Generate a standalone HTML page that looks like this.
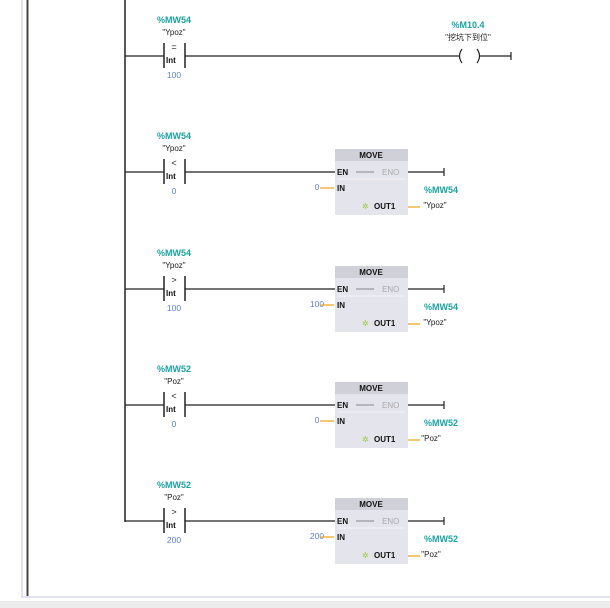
<!DOCTYPE html>
<html><head><meta charset="utf-8"><style>
html,body{margin:0;padding:0;background:#fff;width:610px;height:608px;overflow:hidden}
svg text{font-family:"Liberation Sans","Noto Sans CJK SC",sans-serif}
.t{fill:#1aa3a3;font-size:9px;font-weight:bold;text-anchor:middle}
.n{fill:#222;font-size:8px;text-anchor:middle}
.v{fill:#5a7fe0;font-size:8.5px;text-anchor:middle}
.op{fill:#222;font-size:9px;text-anchor:middle}
.b{fill:#111;font-size:9px;font-weight:bold}
.g{fill:#aaa;font-size:9px}
</style></head><body>
<svg width="610" height="608" viewBox="0 0 610 608" xmlns="http://www.w3.org/2000/svg">
<rect x="0" y="601" width="610" height="7" fill="#ececec"/>
<line x1="22" y1="0" x2="22" y2="597" stroke="#d8d8ee" stroke-width="1.5"/>
<line x1="21" y1="597" x2="610" y2="597" stroke="#d8d8ee" stroke-width="1.5"/>
<line x1="27.5" y1="0" x2="27.5" y2="596" stroke="#444" stroke-width="2"/>
<line x1="125" y1="0" x2="125" y2="522" stroke="#222" stroke-width="1.5"/>

<g>
<line x1="125" y1="56" x2="164" y2="56" stroke="#222" stroke-width="1.3"/>
<line x1="164" y1="43" x2="164" y2="68" stroke="#222" stroke-width="1.5"/>
<line x1="185" y1="43" x2="185" y2="68" stroke="#222" stroke-width="1.5"/>
<line x1="185" y1="56" x2="459" y2="56" stroke="#222" stroke-width="1.3"/>
<text class="t" x="174" y="23">%MW54</text>
<text class="n" x="174" y="35">"Ypoz"</text>
<text class="op" x="174" y="50">=</text>
<text class="b" x="166" y="63" style="font-size:8px">Int</text>
<text class="v" x="174" y="78">100</text>
<path d="M462 49 Q457 56 462 63" fill="none" stroke="#222" stroke-width="1.2"/>
<path d="M477 49 Q482 56 477 63" fill="none" stroke="#222" stroke-width="1.2"/>
<line x1="479" y1="56" x2="511" y2="56" stroke="#222" stroke-width="1.3"/>
<line x1="511" y1="52" x2="511" y2="60" stroke="#222" stroke-width="1.2"/>
<text class="t" x="468" y="28">%M10.4</text>
<text class="n" x="468" y="40">"挖坑下到位"</text>
</g>

<g transform="translate(0,172)">
<line x1="125" y1="0" x2="164" y2="0" stroke="#222" stroke-width="1.3"/>
<line x1="164" y1="-13" x2="164" y2="12" stroke="#222" stroke-width="1.5"/>
<line x1="185" y1="-13" x2="185" y2="12" stroke="#222" stroke-width="1.5"/>
<line x1="185" y1="0" x2="336" y2="0" stroke="#222" stroke-width="1.3"/>
<text class="t" x="174" y="-33">%MW54</text><text class="n" x="174" y="-21">"Ypoz"</text>
<text class="op" x="174" y="-6">&lt;</text><text class="b" x="166" y="7" style="font-size:8px">Int</text><text class="v" x="174" y="22">0</text>
<rect x="335" y="-23" width="73" height="66" fill="#e4e4ec"/><rect x="335" y="-23" width="73" height="12" fill="#d0d0d8"/>
<text class="b" x="371" y="-14" text-anchor="middle" style="font-size:8px">MOVE</text>
<text class="b" x="337" y="3" style="font-size:8px">EN</text><line x1="356" y1="0" x2="374" y2="0" stroke="#888"/><text class="g" x="382" y="3" style="font-size:8px">ENO</text>
<line x1="338" y1="7" x2="405" y2="7" stroke="#f4f4f8"/>
<line x1="408" y1="0" x2="444" y2="0" stroke="#222" stroke-width="1.3"/><line x1="444" y1="-4" x2="444" y2="4" stroke="#222" stroke-width="1.2"/>
<text class="v" x="317" y="18" text-anchor="end">0</text><line x1="320" y1="16" x2="334" y2="16" stroke="#f5a623" stroke-width="1.3"/>
<text class="b" x="337" y="19" style="font-size:8px">IN</text>
<text x="362" y="37" fill="#9c3" style="font-size:8px">✲</text><text class="b" x="374" y="37" style="font-size:8px">OUT1</text>
<line x1="408" y1="35" x2="420" y2="35" stroke="#f5a623" stroke-width="1.3"/>
<text class="t" x="441" y="21">%MW54</text><text class="n" x="435" y="36">"Ypoz"</text>
</g>

<g transform="translate(0,289)">
<line x1="125" y1="0" x2="164" y2="0" stroke="#222" stroke-width="1.3"/>
<line x1="164" y1="-13" x2="164" y2="12" stroke="#222" stroke-width="1.5"/>
<line x1="185" y1="-13" x2="185" y2="12" stroke="#222" stroke-width="1.5"/>
<line x1="185" y1="0" x2="336" y2="0" stroke="#222" stroke-width="1.3"/>
<text class="t" x="174" y="-33">%MW54</text><text class="n" x="174" y="-21">"Ypoz"</text>
<text class="op" x="174" y="-6">&gt;</text><text class="b" x="166" y="7" style="font-size:8px">Int</text><text class="v" x="174" y="22">100</text>
<rect x="335" y="-23" width="73" height="66" fill="#e4e4ec"/><rect x="335" y="-23" width="73" height="12" fill="#d0d0d8"/>
<text class="b" x="371" y="-14" text-anchor="middle" style="font-size:8px">MOVE</text>
<text class="b" x="337" y="3" style="font-size:8px">EN</text><line x1="356" y1="0" x2="374" y2="0" stroke="#888"/><text class="g" x="382" y="3" style="font-size:8px">ENO</text>
<line x1="338" y1="7" x2="405" y2="7" stroke="#f4f4f8"/>
<line x1="408" y1="0" x2="444" y2="0" stroke="#222" stroke-width="1.3"/><line x1="444" y1="-4" x2="444" y2="4" stroke="#222" stroke-width="1.2"/>
<text class="v" x="317" y="18" text-anchor="end">100</text><line x1="320" y1="16" x2="334" y2="16" stroke="#f5a623" stroke-width="1.3"/>
<text class="b" x="337" y="19" style="font-size:8px">IN</text>
<text x="362" y="37" fill="#9c3" style="font-size:8px">✲</text><text class="b" x="374" y="37" style="font-size:8px">OUT1</text>
<line x1="408" y1="35" x2="420" y2="35" stroke="#f5a623" stroke-width="1.3"/>
<text class="t" x="441" y="21">%MW54</text><text class="n" x="435" y="36">"Ypoz"</text>
</g>

<g transform="translate(0,405)">
<line x1="125" y1="0" x2="164" y2="0" stroke="#222" stroke-width="1.3"/>
<line x1="164" y1="-13" x2="164" y2="12" stroke="#222" stroke-width="1.5"/>
<line x1="185" y1="-13" x2="185" y2="12" stroke="#222" stroke-width="1.5"/>
<line x1="185" y1="0" x2="336" y2="0" stroke="#222" stroke-width="1.3"/>
<text class="t" x="174" y="-33">%MW52</text><text class="n" x="174" y="-21">"Poz"</text>
<text class="op" x="174" y="-6">&lt;</text><text class="b" x="166" y="7" style="font-size:8px">Int</text><text class="v" x="174" y="22">0</text>
<rect x="335" y="-23" width="73" height="66" fill="#e4e4ec"/><rect x="335" y="-23" width="73" height="12" fill="#d0d0d8"/>
<text class="b" x="371" y="-14" text-anchor="middle" style="font-size:8px">MOVE</text>
<text class="b" x="337" y="3" style="font-size:8px">EN</text><line x1="356" y1="0" x2="374" y2="0" stroke="#888"/><text class="g" x="382" y="3" style="font-size:8px">ENO</text>
<line x1="338" y1="7" x2="405" y2="7" stroke="#f4f4f8"/>
<line x1="408" y1="0" x2="444" y2="0" stroke="#222" stroke-width="1.3"/><line x1="444" y1="-4" x2="444" y2="4" stroke="#222" stroke-width="1.2"/>
<text class="v" x="317" y="18" text-anchor="end">0</text><line x1="320" y1="16" x2="334" y2="16" stroke="#f5a623" stroke-width="1.3"/>
<text class="b" x="337" y="19" style="font-size:8px">IN</text>
<text x="362" y="37" fill="#9c3" style="font-size:8px">✲</text><text class="b" x="374" y="37" style="font-size:8px">OUT1</text>
<line x1="408" y1="35" x2="420" y2="35" stroke="#f5a623" stroke-width="1.3"/>
<text class="t" x="441" y="21">%MW52</text><text class="n" x="431" y="36">"Poz"</text>
</g>

<g transform="translate(0,521)">
<line x1="125" y1="0" x2="164" y2="0" stroke="#222" stroke-width="1.3"/>
<line x1="164" y1="-13" x2="164" y2="12" stroke="#222" stroke-width="1.5"/>
<line x1="185" y1="-13" x2="185" y2="12" stroke="#222" stroke-width="1.5"/>
<line x1="185" y1="0" x2="336" y2="0" stroke="#222" stroke-width="1.3"/>
<text class="t" x="174" y="-33">%MW52</text><text class="n" x="174" y="-21">"Poz"</text>
<text class="op" x="174" y="-6">&gt;</text><text class="b" x="166" y="7" style="font-size:8px">Int</text><text class="v" x="174" y="22">200</text>
<rect x="335" y="-23" width="73" height="66" fill="#e4e4ec"/><rect x="335" y="-23" width="73" height="12" fill="#d0d0d8"/>
<text class="b" x="371" y="-14" text-anchor="middle" style="font-size:8px">MOVE</text>
<text class="b" x="337" y="3" style="font-size:8px">EN</text><line x1="356" y1="0" x2="374" y2="0" stroke="#888"/><text class="g" x="382" y="3" style="font-size:8px">ENO</text>
<line x1="338" y1="7" x2="405" y2="7" stroke="#f4f4f8"/>
<line x1="408" y1="0" x2="444" y2="0" stroke="#222" stroke-width="1.3"/><line x1="444" y1="-4" x2="444" y2="4" stroke="#222" stroke-width="1.2"/>
<text class="v" x="317" y="18" text-anchor="end">200</text><line x1="320" y1="16" x2="334" y2="16" stroke="#f5a623" stroke-width="1.3"/>
<text class="b" x="337" y="19" style="font-size:8px">IN</text>
<text x="362" y="37" fill="#9c3" style="font-size:8px">✲</text><text class="b" x="374" y="37" style="font-size:8px">OUT1</text>
<line x1="408" y1="35" x2="420" y2="35" stroke="#f5a623" stroke-width="1.3"/>
<text class="t" x="441" y="21">%MW52</text><text class="n" x="431" y="36">"Poz"</text>
</g>
</svg>
</body></html>
